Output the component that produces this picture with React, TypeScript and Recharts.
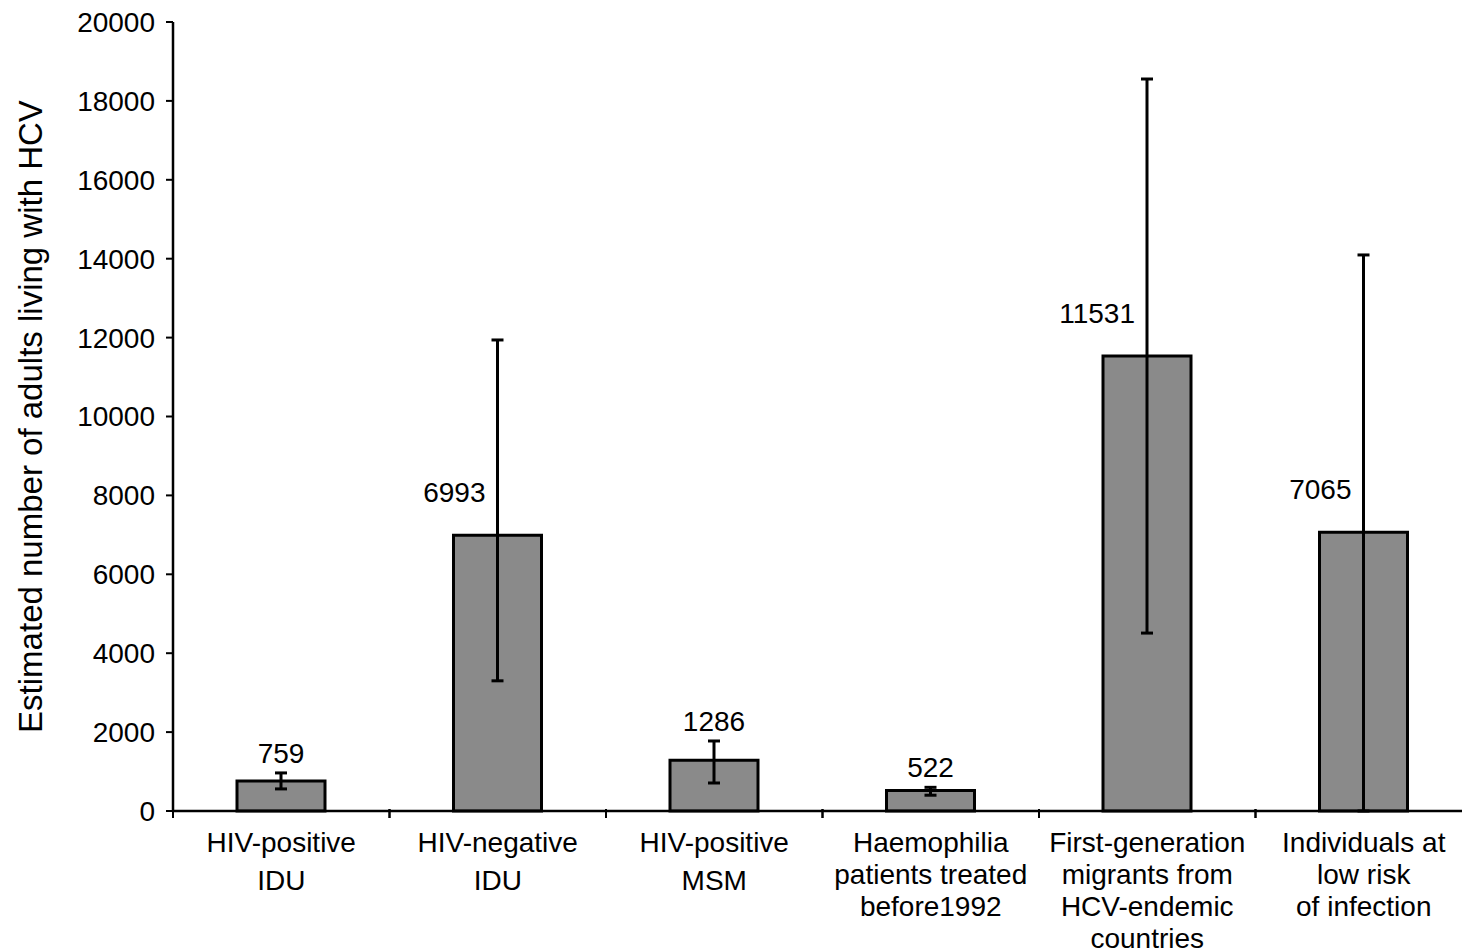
import { Bar, BarChart, ErrorBar, LabelList, XAxis, YAxis } from "recharts";

const categories = [
  "HIV-positive\nIDU",
  "HIV-negative\nIDU",
  "HIV-positive\nMSM",
  "Haemophilia\npatients treated\nbefore1992",
  "First-generation\nmigrants from\nHCV-endemic\ncountries",
  "Individuals at\nlow risk\nof infection",
];
const estimates = [759, 6993, 1286, 522, 11531, 7065];
const lowerBounds = [560, 3300, 710, 400, 4510, 0];
const upperBounds = [965, 11940, 1775, 600, 18555, 14095];
const yTicks = [0, 2000, 4000, 6000, 8000, 10000, 12000, 14000, 16000, 18000, 20000];

const data = categories.map((name, i) => ({
  name,
  value: estimates[i],
  err: [estimates[i] - lowerBounds[i], upperBounds[i] - estimates[i]],
}));

const FONT = "'Liberation Sans', Arial, Helvetica, sans-serif";

// category label plus tick marks on the band edges
function CategoryTick(props: any) {
  const { x, y, payload, width, visibleTicksCount } = props;
  const half =
    payload && typeof payload.offset === "number" && payload.offset > 0
      ? payload.offset
      : width / (2 * (visibleTicksCount || categories.length));
  const lines = String(payload.value).split("\n");
  const gap = lines.length === 2 ? 38 : 32;
  return (
    <g>
      <line x1={x - half} x2={x - half} y1={y - 2} y2={y + 7} stroke="#000" strokeWidth={2} />
      <line x1={x + half} x2={x + half} y1={y - 2} y2={y + 7} stroke="#000" strokeWidth={2} />
      <text x={x} y={y} textAnchor="middle" fontFamily={FONT} fontSize={28} fill="#000">
        {lines.map((line, i) => (
          <tspan key={i} x={x} dy={i === 0 ? 41 : gap}>
            {line}
          </tspan>
        ))}
      </text>
    </g>
  );
}

function ValueLabel(props: any) {
  const { x, y, width, height, value, index } = props;
  const cx = x + width / 2;
  const pxPerUnit = height / value;
  const upper = upperBounds[index];
  if (upper - value > 2000) {
    return (
      <text x={cx - 12} y={y - 33} textAnchor="end" fontFamily={FONT} fontSize={28} fill="#000">
        {value}
      </text>
    );
  }
  const topPx = y - (upper - value) * pxPerUnit;
  return (
    <text x={cx} y={topPx - 10} textAnchor="middle" fontFamily={FONT} fontSize={28} fill="#000">
      {value}
    </text>
  );
}

function YLabel(props: any) {
  const vb = props.viewBox;
  const cx = vb.x + 30;
  const cy = vb.y + vb.height / 2;
  return (
    <text
      transform={`translate(${cx},${cy}) rotate(-90)`}
      textAnchor="middle"
      dominantBaseline="central"
      fontFamily={FONT}
      fontSize={33}
      fill="#000"
    >
      Estimated number of adults living with HCV
    </text>
  );
}

export default function App() {
  return (
    <div
      style={{
        position: "fixed",
        left: 0,
        top: 0,
        width: 1462,
        height: 951,
        overflow: "hidden",
        background: "#fff",
      }}
    >
      <BarChart
        width={1480}
        height={951}
        data={data}
        margin={{ top: 22, right: 8, bottom: 0, left: 0 }}
      >
        <XAxis
          dataKey="name"
          height={140}
          interval={0}
          axisLine={{ stroke: "#000", strokeWidth: 2.5 }}
          tickLine={false}
          tickSize={0}
          tickMargin={0}
          tick={<CategoryTick />}
        />
        <YAxis
          width={173}
          domain={[0, 20000]}
          ticks={yTicks}
          interval={0}
          axisLine={{ stroke: "#000", strokeWidth: 2.5 }}
          tickLine={{ stroke: "#000", strokeWidth: 2 }}
          tickSize={7}
          tickMargin={11}
          tick={{ fontFamily: FONT, fontSize: 28, fill: "#000" }}
          label={{ content: <YLabel /> }}
        />
        <Bar
          dataKey="value"
          barSize={88}
          fill="#8a8a8a"
          stroke="#000"
          strokeWidth={3}
          isAnimationActive={false}
        >
          <ErrorBar
            dataKey="err"
            direction="y"
            width={6}
            stroke="#000"
            strokeWidth={3}
            isAnimationActive={false}
          />
          <LabelList dataKey="value" content={<ValueLabel />} />
        </Bar>
      </BarChart>
    </div>
  );
}
